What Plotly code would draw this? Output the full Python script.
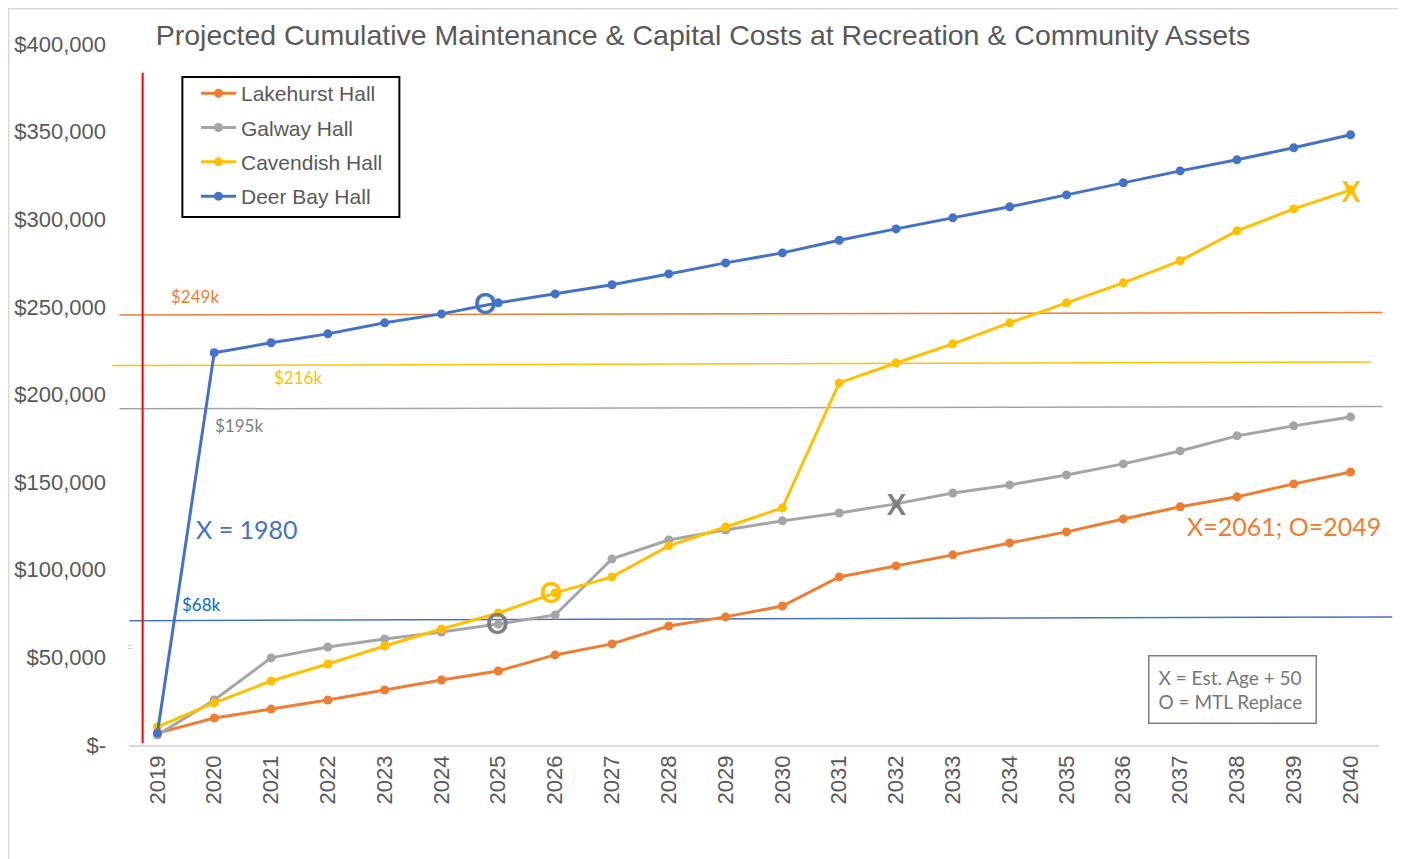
import plotly.graph_objects as go

# ---------------- data ----------------
years = list(range(2019, 2041))
lakehurst = [6800, 15400, 20500, 25700, 31400, 37100, 42200, 51400, 57700, 67900, 73100,
             79300, 95900, 102200, 108500, 115300, 121600, 129000, 135900, 141600, 149000, 155800]
galway = [5700, 25700, 49700, 55900, 60500, 64500, 69000, 74200, 106200, 117000, 122700,
          127900, 132400, 137600, 143800, 148400, 154100, 160400, 167800, 176400, 182100, 187200]
cavendish = [10300, 24000, 36500, 46200, 56500, 66200, 75300, 86800, 95900, 113600, 124400,
             135300, 206600, 218000, 228900, 240900, 252300, 263700, 276300, 293400, 305900, 316800]
deer_bay = [6800, 223800, 229500, 234600, 240900, 246000, 252300, 257400, 262600, 268800, 275100,
            280800, 288000, 294500, 300800, 307100, 313900, 320800, 327600, 333900, 340800, 348200]

series_names = ["Lakehurst Hall", "Galway Hall", "Cavendish Hall", "Deer Bay Hall"]
series_values = [lakehurst, galway, cavendish, deer_bay]
series_colors = ["#ED7D31", "#A5A5A5", "#FFC000", "#4472C4"]

# hand-drawn threshold lines (value at left end, value at right end)
thr_labels = ["$249k", "$216k", "$195k", "$68k"]
thr_start = [245400, 216500, 191800, 70950]
thr_end = [246800, 218600, 193100, 73060]
thr_x0 = [-0.0077, -0.0133, -0.0077, 0.0003]
thr_x1 = [1.0027, 0.9933, 1.0027, 1.0107]
thr_colors = ["#ED7D31", "#FFC000", "#A5A5A5", "#4472C4"]
thr_label_colors = ["#ED7D31", "#FFC000", "#7F7F7F", "#0070C0"]
thr_label_x = [2019.67, 2021.48, 2020.43, 2019.77]
thr_label_y = [255700, 209500, 182100, 79900]

y_ticks = list(range(0, 400001, 50000))
y_ticktext = ["$-"] + ["${:,}".format(v) for v in y_ticks[1:]]

Y_MAX = 400000

# ---------------- figure ----------------
fig = go.Figure()
for i, (name, vals, col) in enumerate(zip(series_names, series_values, series_colors)):
    fig.add_trace(go.Scatter(
        x=years, y=vals, name=name, mode="lines+markers",
        line=dict(color=col, width=3),
        marker=dict(color=col, size=9),
        legendgroup="g%d" % i,
    ))

shapes = []
# outer frame
shapes.append(dict(type="rect", xref="paper", yref="paper",
                   x0=-0.0962, x1=1.0184, y0=-0.2, y1=1.0503,
                   line=dict(color="#D9D9D9", width=1.5), layer="below"))
# legend frame
shapes.append(dict(type="rect", xref="paper", yref="paper",
                   x0=0.0427, x1=0.2163, y0=0.7532, y1=0.9529,
                   line=dict(color="black", width=2), fillcolor="white", layer="below"))
# threshold lines
for v0, v1, x0, x1, c in zip(thr_start, thr_end, thr_x0, thr_x1, thr_colors):
    shapes.append(dict(type="line", xref="paper", yref="paper",
                       x0=x0, x1=x1, y0=v0 / Y_MAX, y1=v1 / Y_MAX,
                       line=dict(color=c, width=1.5), layer="below"))
# red vertical line
shapes.append(dict(type="line", xref="x", yref="y", x0=2018.74, x1=2018.74,
                   y0=1000, y1=383600, line=dict(color="#FF0000", width=2), layer="below"))

annotations = []
for t, x, y, c in zip(thr_labels, thr_label_x, thr_label_y, thr_label_colors):
    annotations.append(dict(x=x, y=y, xref="x", yref="y", text=t, showarrow=False,
                            font=dict(family="Lato", size=17, color=c)))

marks = [
    ("O", 2024.77, 252300, "#4472C4"),
    ("O", 2025.94, 87300, "#FFC000"),
    ("O", 2024.98, 69600, "#7F7F7F"),
    ("X", 2032.01, 137600, "#7F7F7F"),
    ("X", 2040.02, 316200, "#FFC000"),
]
for t, x, y, c in marks:
    annotations.append(dict(x=x, y=y, xref="x", yref="y", text="<b>%s</b>" % t, showarrow=False,
                            font=dict(family="Lato", size=28, color=c)))

annotations.append(dict(x=2020.58, y=123300, xref="x", yref="y", text="X = 1980", showarrow=False,
                        font=dict(family="Lato", size=25, color="#4472C4")))
annotations.append(dict(x=2038.82, y=125000, xref="x", yref="y", text="X=2061; O=2049",
                        showarrow=False, font=dict(family="Lato", size=25, color="#ED7D31")))
annotations.append(dict(x=2037.93, y=31400, xref="x", yref="y",
                        text="X = Est. Age + 50 <br>O = MTL Replace", showarrow=False,
                        align="left", bordercolor="#7F7F7F", borderwidth=1.5, borderpad=9,
                        bgcolor="white",
                        font=dict(family="Lato", size=19, color="#767676")))
annotations.append(dict(x=-0.003, y=0.128, xref="paper", yref="paper", text="=",
                        showarrow=False, font=dict(family="Liberation Sans", size=10, color="#D0D0D0")))

fig.update_layout(
    width=1398, height=851,
    margin=dict(l=121, r=27, t=36, b=114),
    paper_bgcolor="white", plot_bgcolor="rgba(0,0,0,0)",
    title=dict(text="Projected Cumulative Maintenance & Capital Costs at Recreation & Community Assets",
               x=695 / 1398, xref="container", xanchor="center",
               y=1 - 27 / 851, yref="container", yanchor="middle",
               font=dict(family="Liberation Sans", size=28.5, color="#595959")),
    font=dict(family="Liberation Sans", color="#595959"),
    showlegend=True,
    legend=dict(x=0.0536, y=0.9585, xanchor="left", yanchor="top",
                borderwidth=0, bgcolor="rgba(0,0,0,0)",
                font=dict(family="Liberation Sans", size=21, color="#595959"),
                itemwidth=35, tracegroupgap=4, traceorder="grouped"),
    xaxis=dict(range=[2018.5, 2040.5], tickmode="array", tickvals=years,
               ticktext=[str(y) for y in years], tickangle=-90, automargin=False,
               showgrid=False, zeroline=False, showline=True,
               linecolor="#D9D9D9", linewidth=1.5, ticks="",
               tickfont=dict(family="Liberation Sans", size=22, color="#595959")),
    yaxis=dict(range=[0, Y_MAX], tickmode="array", tickvals=y_ticks, ticktext=y_ticktext,
               automargin=False,
               showgrid=False, zeroline=False, showline=False, ticks="",
               ticklabelstandoff=22,
               tickfont=dict(family="Liberation Sans", size=22, color="#595959")),
    shapes=shapes, annotations=annotations,
)

fig.write_html("out.html")
